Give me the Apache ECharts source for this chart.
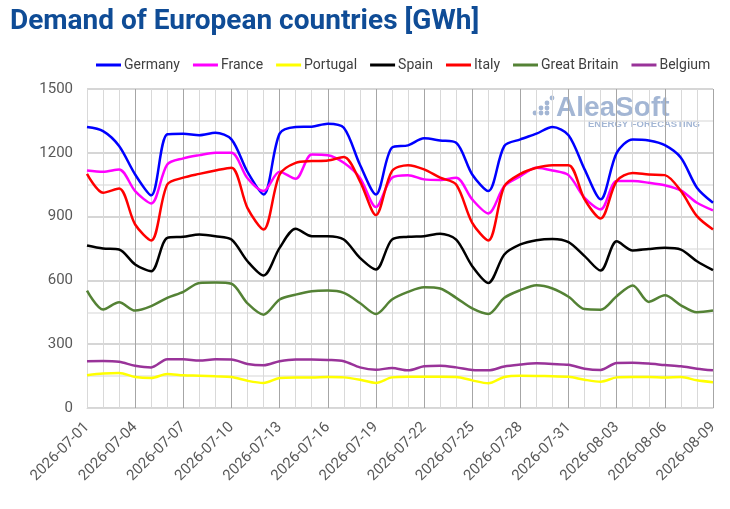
<!DOCTYPE html>
<html>
<head>
<meta charset="utf-8">
<script src="https://cdn.jsdelivr.net/npm/echarts@6/dist/echarts.min.js"></script>
<style>
html,body{margin:0;padding:0;background:#fff;}
#chart{width:730px;height:509px;}
</style>
</head>
<body>
<div id="chart"></div>
<script>
const dates = [
  '2026-07-01','2026-07-02','2026-07-03','2026-07-04','2026-07-05','2026-07-06','2026-07-07','2026-07-08','2026-07-09','2026-07-10',
  '2026-07-11','2026-07-12','2026-07-13','2026-07-14','2026-07-15','2026-07-16','2026-07-17','2026-07-18','2026-07-19','2026-07-20',
  '2026-07-21','2026-07-22','2026-07-23','2026-07-24','2026-07-25','2026-07-26','2026-07-27','2026-07-28','2026-07-29','2026-07-30',
  '2026-07-31','2026-08-01','2026-08-02','2026-08-03','2026-08-04','2026-08-05','2026-08-06','2026-08-07','2026-08-08','2026-08-09'
];
const germany = [1321,1302,1232,1098,1000,1287,1290,1283,1294,1263, 1110,1004,1290,1321,1323,1337,1318,1145,1004,1224, 1235,1268,1258,1247,1098,1020,1232,1263,1290,1321, 1283,1122,981,1200,1263,1258,1236,1177,1036,965];
const france = [1117,1111,1122,1020,962,1145,1174,1189,1200,1200, 1080,1020,1111,1078,1192,1189,1153,1083,945,1083, 1095,1075,1072,1083,981,915,1043,1090,1130,1117, 1095,988,934,1067,1067,1059,1047,1023,965,929];
const portugal = [154,162,165,146,141,160,154,152,149,146, 128,118,141,144,144,146,144,133,118,144, 147,147,147,146,130,116,146,152,151,149, 147,133,124,144,146,146,144,146,130,121];
const spain = [764,750,745,675,643,800,805,816,808,792, 690,623,753,843,808,808,792,706,651,792, 805,808,819,792,667,588,722,769,789,795, 780,714,646,784,741,748,753,745,690,648];
const italy = [1101,1012,1032,863,788,1051,1083,1101,1117,1130, 940,839,1098,1153,1161,1164,1180,1067,907,1114, 1142,1122,1083,1051,871,788,1043,1101,1130,1142, 1142,981,891,1067,1105,1098,1095,1020,902,839];
const greatBritain = [552,463,497,458,479,518,546,588,590,584, 492,439,510,533,549,552,541,494,442,510, 546,568,562,518,468,442,518,554,577,562, 523,465,462,526,576,499,530,483,450,458];
const belgium = [220,221,217,199,191,229,229,223,229,228, 207,201,220,228,228,226,220,191,180,188, 177,196,199,191,179,177,195,204,210,207, 203,185,179,212,213,209,202,196,185,177];
const yTicks = [0,300,600,900,1200,1500];

const seriesDefs = [
  {name:'Germany', data:germany, color:'#0000ff'},
  {name:'France', data:france, color:'#ff00ff'},
  {name:'Portugal', data:portugal, color:'#ffff00'},
  {name:'Spain', data:spain, color:'#000000'},
  {name:'Italy', data:italy, color:'#ff0000'},
  {name:'Great Britain', data:greatBritain, color:'#548235'},
  {name:'Belgium', data:belgium, color:'#993399'}
];

const chart = echarts.init(document.getElementById('chart'), null, {renderer:'canvas'});
const wm = '#a3b6d4';
chart.setOption({
  animation:false,
  backgroundColor:'#ffffff',
  textStyle:{fontFamily:'Roboto'},
  title:{
    text:'Demand of European countries [GWh]',
    left:5, top:3,
    textStyle:{fontFamily:'Roboto', fontWeight:'bold', fontSize:28, color:'#0f4c96'}
  },
  legend:{
    top:53, left:91,
    icon:'rect', itemWidth:25, itemHeight:3, itemGap:13,
    textStyle:{fontFamily:'Roboto', fontSize:14, color:'#404040', padding:[0,0,0,-2]},
    data:seriesDefs.map(s=>s.name)
  },
  grid:{left:87, right:17, top:89, bottom:101, containLabel:false},
  graphic:[
    {type:'circle', shape:{cx:535, cy:113, r:2.4}, style:{fill:wm}, z:0},
    {type:'circle', shape:{cx:541, cy:108, r:2.4}, style:{fill:wm}, z:0},
    {type:'circle', shape:{cx:541, cy:113, r:2.4}, style:{fill:wm}, z:0},
    {type:'circle', shape:{cx:547, cy:103, r:2.4}, style:{fill:wm}, z:0},
    {type:'circle', shape:{cx:547, cy:108, r:2.4}, style:{fill:wm}, z:0},
    {type:'circle', shape:{cx:547, cy:113, r:2.4}, style:{fill:wm}, z:0},
    {type:'circle', shape:{cx:552, cy:98, r:2.4}, style:{fill:wm}, z:0},
    {type:'text', left:556, top:94, z:0, style:{text:'AleaSoft', fill:wm, font:'bold 28px "Liberation Sans", Arial, sans-serif'}},
    {type:'text', left:588, top:119, z:0, style:{text:'ENERGY FORECASTING', fill:wm, font:'bold 9.5px "Liberation Sans", Arial, sans-serif'}}
  ],
  xAxis:[
    {
      type:'category', data:dates, boundaryGap:false, position:'bottom',
      axisLine:{show:true, lineStyle:{color:'#d9d9d9', width:1}},
      axisTick:{show:false},
      axisLabel:{interval:2, rotate:45, fontSize:15, color:'#595959', margin:17, fontFamily:'Roboto'},
      splitLine:{show:true, interval:0, lineStyle:{color:'#d9d9d9', width:1}}
    },
    {
      type:'category', data:dates, boundaryGap:false, position:'bottom',
      axisLine:{show:false}, axisTick:{show:false}, axisLabel:{show:false},
      splitLine:{show:true, interval:2, lineStyle:{color:'#a6a6a6', width:1}}
    }
  ],
  yAxis:{
    type:'value', min:yTicks[0], max:yTicks[yTicks.length-1], interval:300,
    axisLine:{show:true, lineStyle:{color:'#d9d9d9'}},
    axisTick:{show:false},
    axisLabel:{fontSize:15, color:'#595959', margin:14, fontFamily:'Roboto', formatter:v=>String(v)},
    splitLine:{show:true, lineStyle:{color:'#c8c8c8', width:1.5}},
    minorTick:{show:false, splitNumber:2},
    minorSplitLine:{show:true, lineStyle:{color:'#e3e3e3', width:1.5}}
  },
  series:seriesDefs.map(s=>({
    name:s.name, type:'line', data:s.data, xAxisIndex:0,
    smooth:0.3, showSymbol:false, symbol:'none',
    color:s.color,
    lineStyle:{color:s.color, width:2.5},
    z:3
  }))
});
</script>
</body>
</html>
